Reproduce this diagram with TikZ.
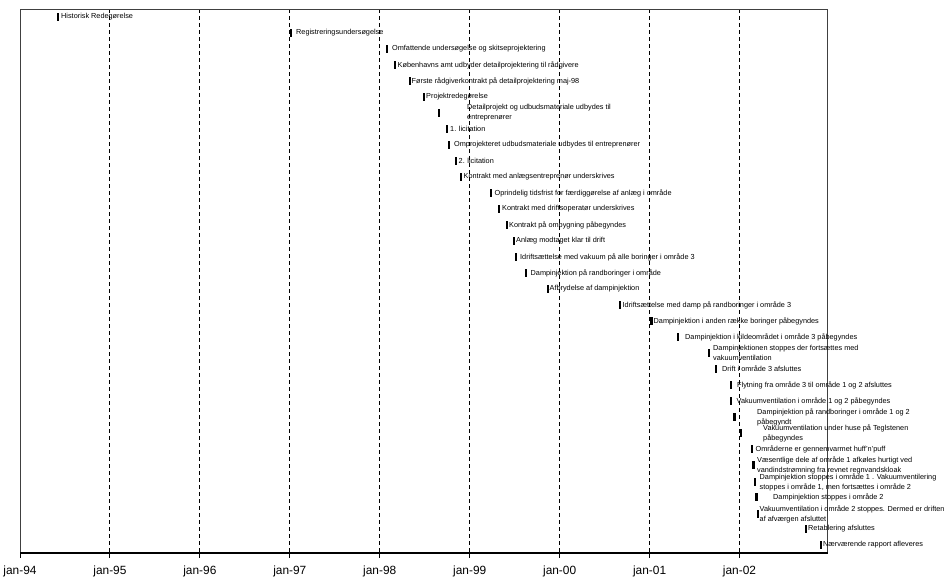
\documentclass[tikz,border=0pt]{standalone}
\usepackage{fontspec}
\setmainfont{Liberation Sans}
\newcommand\myev[5]{%
  \node[mk] (m#1) at (#2,#3) {};
  \node[lb] (l#1) at (#4,#3) {#5};}
\begin{document}
\begin{tikzpicture}[x=1pt,y=-1pt,
  mk/.style={fill=black, draw=none, inner sep=0pt, minimum width=2.6pt, minimum height=7.5pt},
  lb/.style={anchor=west, inner sep=0pt, align=left, font=\fontsize{7.3}{10}\selectfont},
  yr/.style={anchor=base, inner sep=0pt, font=\fontsize{11.9}{14}\selectfont},
  gridline/.style={line width=0.9pt, dash pattern=on 4pt off 3pt},
  frame/.style={line width=0.6pt, draw=black!75},
  axisline/.style={line width=1.1pt, draw=black},
  tickline/.style={line width=0.9pt, draw=black}]
\useasboundingbox (0,0) rectangle (947,584);
% frame
\coordinate (tl) at (20,9);
\coordinate (tr) at (827.5,9);
\coordinate (br) at (827.5,553);
\coordinate (bl) at (20,553);
% year grid, ticks and labels
\foreach \k/\lab in {0/94,1/95,2/96,3/97,4/98,5/99,6/00,7/01,8/02}{
  \coordinate (top\k) at ({20+89.94*\k},9);
  \coordinate (bot\k) at ({20+89.94*\k},553);
  \coordinate (tick\k) at ({20+89.94*\k},557.5);
  \node[yr] (yr\k) at ({20+89.94*\k},574.5) {jan-\lab};
  \draw[tickline] (bot\k) -- (tick\k);
}
\foreach \k in {1,...,8}{
  \draw[gridline] (top\k) -- (bot\k);
}
\draw[frame] (bl) -- (tl) -- (tr) -- (br);
\draw[axisline] (bl) -- (br);
% events
\myev{1}{58}{17}{61}{Historisk Redegørelse}
\myev{2}{291}{33}{296}{Registreringsundersøgelse}
\myev{3}{387}{49}{392}{Omfattende undersøgelse og skitseprojektering}
\myev{4}{395}{65}{397.5}{Københavns amt udbyder detailprojektering til rådgivere}
\myev{5}{410}{81}{411.5}{Første rådgiverkontrakt på detailprojektering maj-98}
\myev{6}{424}{97}{426}{Projektredegørelse}
\myev{7}{439}{113}{467}{Detailprojekt og udbudsmateriale udbydes til\\entreprenører}
\myev{8}{447}{129}{450}{1. licitation}
\myev{9}{449}{145}{454}{Omprojekteret udbudsmateriale udbydes til entreprenører}
\myev{10}{456}{161}{458.5}{2. licitation}
\myev{11}{461}{177}{463.5}{Kontrakt med anlægsentreprenør underskrives}
\myev{12}{491}{193}{494.5}{Oprindelig tidsfrist for færdiggørelse af anlæg i område}
\myev{13}{499}{209}{502}{Kontrakt med driftsoperatør underskrives}
\myev{14}{507}{225}{509}{Kontrakt på ombygning påbegyndes}
\myev{15}{514}{241}{516}{Anlæg modtaget klar til drift}
\myev{16}{516}{257}{520}{Idriftsættelse med vakuum på alle boringer i område 3}
\myev{17}{526}{273}{530.5}{Dampinjektion på randboringer i område}
\myev{18}{548}{289}{549.5}{Afbrydelse af dampinjektion}
\myev{19}{620}{305}{622.5}{Idriftsættelse med damp på randboringer i område 3}
\myev{20}{651.5}{321}{653.5}{Dampinjektion i anden række boringer påbegyndes}
\myev{21}{678}{337}{685}{Dampinjektion i kildeområdet i område 3 påbegyndes}
\myev{22}{709}{353}{713}{Dampinjektionen stoppes der fortsættes med\\vakuumventilation}
\myev{23}{716}{369}{722}{Drift i område 3 afsluttes}
\myev{24}{731}{385}{737}{Flytning fra område 3 til område 1 og 2 afsluttes}
\myev{25}{731}{401}{736.5}{Vakuumventilation i område 1 og 2 påbegyndes}
\myev{26}{734.5}{417}{757}{Dampinjektion på randboringer i område 1 og 2\\påbegyndt}
\myev{27}{741}{433}{763}{Vakuumventilation under huse på Teglstenen\\påbegyndes}
\myev{28}{752}{449}{755.5}{Områderne er gennemvarmet huff'n'puff}
\myev{29}{753.5}{465}{757}{Væsentlige dele af område 1 afkøles hurtigt ved\\vandindstrømning fra revnet regnvandskloak}
\myev{30}{755}{482}{759.5}{Dampinjektion stoppes i område 1 . Vakuumventilering\\stoppes i område 1, men fortsættes i område 2}
\myev{31}{756.5}{497}{773}{Dampinjektion stoppes i område 2}
\myev{32}{758}{514}{759.5}{Vakuumventilation i område 2 stoppes. Dermed er driften\\af afværgen afsluttet}
\myev{33}{806}{529}{808}{Retablering afsluttes}
\myev{34}{821}{545}{823}{Nærværende rapport afleveres}
\end{tikzpicture}
\end{document}
